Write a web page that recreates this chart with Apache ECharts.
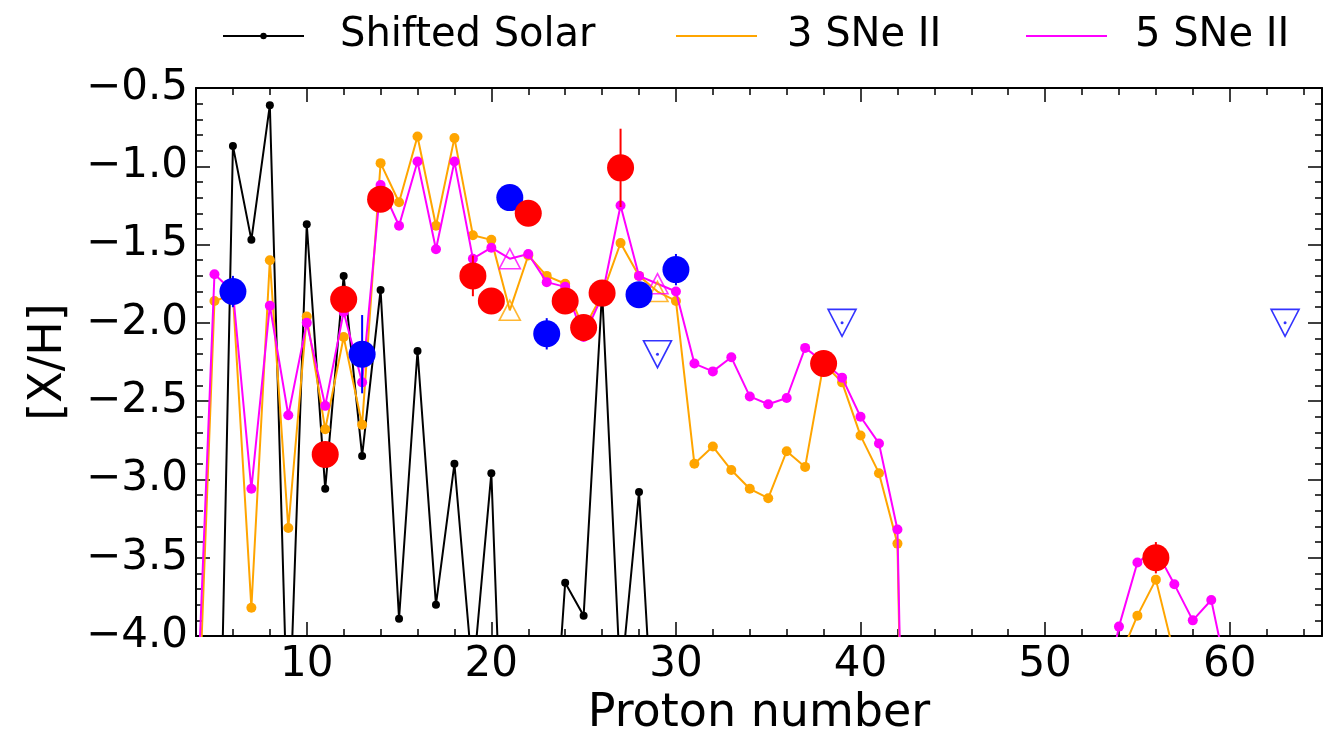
<!DOCTYPE html>
<html>
<head>
<meta charset="utf-8">
<script src="https://cdn.jsdelivr.net/npm/echarts@6/dist/echarts.min.js"></script>
<style>
  html, body { margin: 0; padding: 0; background: #ffffff; }
  #chart { width: 1331px; height: 731px; }
</style>
</head>
<body>
<div id="chart"></div>
<script>
// Solar pattern shifted down (log eps - 9.30), Z = 5..30
const solarZ = [5, 6, 7, 8, 9, 10, 11, 12, 13, 14, 15, 16, 17, 18, 19, 20, 21, 22, 23, 24, 25, 26, 27, 28, 29, 30];
const solarVals = [-6.60, -0.87, -1.47, -0.61, -4.74, -1.37, -3.06, -1.70, -2.85, -1.79, -3.89, -2.18, -3.80, -2.90, -4.27, -2.96, -6.15, -4.35, -5.37, -3.66, -3.87, -1.80, -4.31, -3.08, -5.11, -4.74];

// Model yields, Z = 4..60
const modelZ = [4, 5, 6, 7, 8, 9, 10, 11, 12, 13, 14, 15, 16, 17, 18, 19, 20, 21, 22, 23, 24, 25, 26, 27, 28, 29, 30,
  31, 32, 33, 34, 35, 36, 37, 38, 39, 40, 41, 42, 43, 44, 45, 46, 47, 48, 49, 50, 51, 52, 53, 54, 55, 56, 57, 58, 59, 60];
const sne3Vals = [-4.96, -1.86, -1.82, -3.82, -1.60, -3.31, -1.96, -2.68, -2.09, -2.65, -0.98, -1.23, -0.81, -1.38, -0.82,
  -1.44, -1.47, -1.92, -1.57, -1.70, -1.75, -2.04, -1.82, -1.49, -1.70, -1.80, -1.86,
  -2.90, -2.79, -2.94, -3.06, -3.12, -2.82, -2.92, -2.26, -2.38, -2.72, -2.96, -3.41, -9.50, -5.60, -6.30, -5.90, -6.60,
  -6.00, -7.10, -5.50, -6.40, -5.80, -6.90, -4.15, -3.87, -3.64, -4.12, -4.70, -4.60, -5.20];
const sne5Vals = [-4.65, -1.69, -1.80, -3.06, -1.89, -2.59, -2.00, -2.53, -1.93, -2.38, -1.12, -1.38, -0.97, -1.53, -0.97,
  -1.59, -1.52, -1.59, -1.56, -1.74, -1.77, -2.09, -1.83, -1.25, -1.70, -1.75, -1.80,
  -2.26, -2.31, -2.22, -2.47, -2.52, -2.48, -2.16, -2.25, -2.35, -2.60, -2.77, -3.32, -9.00, -5.10, -5.80, -5.40, -6.00,
  -5.50, -6.50, -5.00, -5.70, -5.20, -4.50, -3.94, -3.53, -3.45, -3.67, -3.90, -3.77, -4.33];
// model elements drawn as lower limits (open triangles)
const modelLimitZ = [21, 29];

// Measured abundances
const redZ = [11, 12, 14, 19, 20, 22, 24, 25, 26, 27, 38, 56];
const redVals = [-2.84, -1.85, -1.21, -1.70, -1.86, -1.30, -1.86, -2.03, -1.81, -1.01, -2.26, -3.50];
const redErr = [0.08, 0.08, 0.08, 0.13, 0.08, 0.08, 0.08, 0.08, 0.08, 0.25, 0.08, 0.10];
const blueZ = [6, 13, 21, 23, 28, 30];
const blueVals = [-1.80, -2.20, -1.20, -2.07, -1.82, -1.66];
const blueErr = [0.10, 0.25, 0.08, 0.10, 0.08, 0.10];
// Upper limits
const blueLimZ = [29, 39, 63];
const blueLimVals = [-2.20, -2.00, -2.00];

// Axis ticks
const xMajorTicks = [10, 20, 30, 40, 50, 60];
const xMinorTicks = [];
for (let t = 6; t <= 64; t += 2) { if (t % 10 !== 0) xMinorTicks.push(t); }

const FONT = 'DejaVu Sans';
const ORANGE = '#FFA500', MAGENTA = '#FF00FF', RED = '#FF0000', BLUE = '#0000FF';

const pairs = (xs, ys) => xs.map((x, i) => [x, ys[i]]);
const modelData = (vals) => modelZ.map((z, i) =>
  modelLimitZ.includes(z) ? { value: [z, vals[i]], symbol: 'none' } : [z, vals[i]]);
const limitPoints = (vals) => modelLimitZ.map(z => [z, vals[modelZ.indexOf(z)]]);
const errTriples = (xs, ys, es) => xs.map((x, i) => [x, ys[i], es[i]]);

function errorBar(color) {
  return function (params, api) {
    const x = api.value(0), y = api.value(1), e = api.value(2);
    const p1 = api.coord([x, y - e]);
    const p2 = api.coord([x, y + e]);
    return {
      type: 'line',
      shape: { x1: p1[0], y1: p1[1], x2: p2[0], y2: p2[1] },
      style: { stroke: color, lineWidth: 2 }
    };
  };
}

const xBase = { type: 'value', min: 4, max: 65, gridIndex: 0, splitLine: { show: false } };
const tickLine = { color: '#000', width: 1.5 };

function legendItem(left, name, textPad, hideSymbol) {
  return {
    left: left, top: 16, padding: 0, itemHeight: 8, itemWidth: 81,
    textStyle: { fontFamily: FONT, fontSize: 40, color: '#000', padding: [0, 0, 0, textPad] },
    data: [hideSymbol ? { name: name, itemStyle: { opacity: 0 } } : name]
  };
}

const chart = echarts.init(document.getElementById('chart'));
chart.setOption({
  animation: false,
  backgroundColor: '#ffffff',
  grid: { left: 196, right: 9, top: 88, bottom: 95, containLabel: false, outerBoundsMode: 'none' },
  legend: [
    legendItem(222, 'Shifted Solar', 31, false),
    legendItem(675, '3 SNe II', 25, true),
    legendItem(1025, '5 SNe II', 23, true)
  ],
  xAxis: [
    Object.assign({}, xBase, {
      position: 'bottom',
      name: 'Proton number', nameLocation: 'middle', nameGap: 52,
      nameTextStyle: { fontFamily: FONT, fontSize: 46, color: '#000' },
      axisLine: { show: true, lineStyle: { color: '#000', width: 2 } },
      axisTick: { show: true, inside: true, length: 14, lineStyle: tickLine, customValues: xMajorTicks },
      axisLabel: { show: true, customValues: xMajorTicks, fontFamily: FONT, fontSize: 42, color: '#000', margin: 8 }
    }),
    Object.assign({}, xBase, {
      position: 'bottom',
      axisLine: { show: false },
      axisTick: { show: true, inside: true, length: 7, lineStyle: tickLine, customValues: xMinorTicks },
      axisLabel: { show: false }
    }),
    Object.assign({}, xBase, {
      position: 'top',
      axisLine: { show: true, lineStyle: { color: '#000', width: 2 } },
      axisTick: { show: true, inside: true, length: 14, lineStyle: tickLine, customValues: xMajorTicks },
      axisLabel: { show: false }
    }),
    Object.assign({}, xBase, {
      position: 'top',
      axisLine: { show: false },
      axisTick: { show: true, inside: true, length: 7, lineStyle: tickLine, customValues: xMinorTicks },
      axisLabel: { show: false }
    })
  ],
  yAxis: [
    {
      type: 'value', position: 'left', min: -4, max: -0.5, interval: 0.5,
      name: '[X/H]', nameLocation: 'middle', nameGap: 124, nameRotate: 90,
      nameTextStyle: { fontFamily: FONT, fontSize: 46, color: '#000' },
      splitLine: { show: false },
      axisLine: { show: true, lineStyle: { color: '#000', width: 2 } },
      axisTick: { show: true, inside: true, length: 14, lineStyle: tickLine },
      minorTick: { show: true, splitNumber: 5, length: 7, lineStyle: tickLine },
      axisLabel: {
        fontFamily: FONT, fontSize: 42, color: '#000', margin: 8, padding: [8, 0, 0, 0],
        formatter: v => v.toFixed(1).replace('-', '\u2212')
      }
    },
    {
      type: 'value', position: 'right', min: -4, max: -0.5, interval: 0.5,
      splitLine: { show: false },
      axisLine: { show: true, lineStyle: { color: '#000', width: 2 } },
      axisTick: { show: true, inside: true, length: 14, lineStyle: tickLine },
      minorTick: { show: true, splitNumber: 5, length: 7, lineStyle: tickLine },
      axisLabel: { show: false }
    }
  ],
  series: [
    {
      name: 'Shifted Solar', type: 'line', data: pairs(solarZ, solarVals),
      symbol: 'circle', symbolSize: 8, showAllSymbol: true, clip: true, z: 2,
      lineStyle: { color: '#000', width: 2 }, itemStyle: { color: '#000' }
    },
    {
      name: '3 SNe II', type: 'line', data: modelData(sne3Vals),
      symbol: 'circle', symbolSize: 10, showAllSymbol: true, clip: true, z: 3,
      lineStyle: { color: ORANGE, width: 2 }, itemStyle: { color: ORANGE }
    },
    {
      name: '5 SNe II', type: 'line', data: modelData(sne5Vals),
      symbol: 'circle', symbolSize: 10, showAllSymbol: true, clip: true, z: 4,
      lineStyle: { color: MAGENTA, width: 2 }, itemStyle: { color: MAGENTA }
    },
    {
      type: 'scatter', data: limitPoints(sne3Vals), symbol: 'triangle', symbolSize: [21, 20], z: 5,
      itemStyle: { color: 'rgba(0,0,0,0)', borderColor: ORANGE, borderWidth: 1.6 }
    },
    {
      type: 'scatter', data: limitPoints(sne5Vals), symbol: 'triangle', symbolSize: [21, 20], z: 5,
      itemStyle: { color: 'rgba(0,0,0,0)', borderColor: MAGENTA, borderWidth: 1.6 }
    },
    {
      type: 'scatter', data: pairs(blueLimZ, blueLimVals), symbol: 'triangle', symbolRotate: 180,
      symbolSize: [28, 27], z: 6,
      itemStyle: { color: 'rgba(0,0,0,0)', borderColor: BLUE, borderWidth: 1.6 }
    },
    {
      type: 'scatter', data: pairs(blueLimZ, blueLimVals), symbol: 'circle', symbolSize: 3, z: 6,
      itemStyle: { color: BLUE }
    },
    {
      type: 'custom', data: errTriples(blueZ, blueVals, blueErr), encode: { x: 0, y: 1 },
      renderItem: errorBar(BLUE), z: 7
    },
    {
      type: 'scatter', data: pairs(blueZ, blueVals), symbol: 'circle', symbolSize: 27, z: 7,
      itemStyle: { color: BLUE, opacity: 1 }
    },
    {
      type: 'custom', data: errTriples(redZ, redVals, redErr), encode: { x: 0, y: 1 },
      renderItem: errorBar(RED), z: 8
    },
    {
      type: 'scatter', data: pairs(redZ, redVals), symbol: 'circle', symbolSize: 27, z: 8,
      itemStyle: { color: RED, opacity: 1 }
    }
  ]
});
</script>
</body>
</html>
